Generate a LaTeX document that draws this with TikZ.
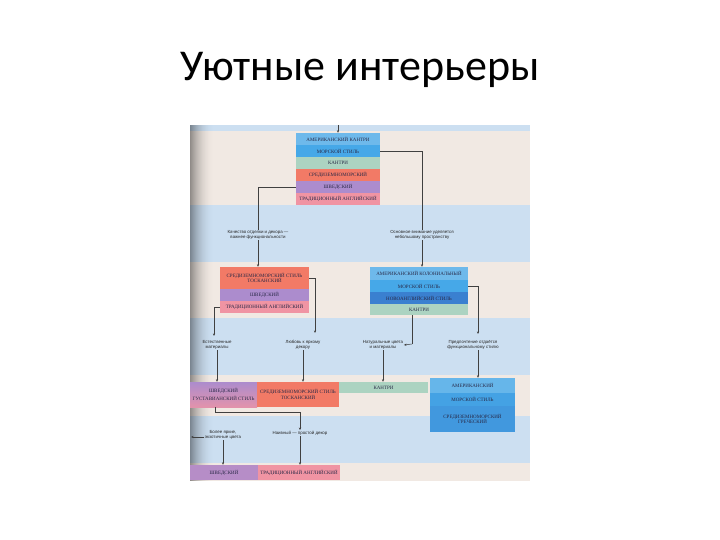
\documentclass[tikz,border=0pt]{standalone}
\usepackage{fontspec}
\setmainfont{Liberation Serif}
\newfontfamily\titlefont{Carlito}
\newfontfamily\notefont{Liberation Sans}
\usetikzlibrary{arrows.meta}
\definecolor{bgbeige}{RGB}{241,233,227}
\definecolor{bgblue}{RGB}{204,223,241}
\definecolor{bxlb}{RGB}{110,185,235}
\definecolor{bxblue}{RGB}{70,168,232}
\definecolor{bxdblue}{RGB}{58,128,208}
\definecolor{bxgreen}{RGB}{172,211,193}
\definecolor{bxsalmon}{RGB}{242,122,102}
\definecolor{bxpurple}{RGB}{172,140,205}
\definecolor{bxpink}{RGB}{240,148,163}
\definecolor{inktext}{RGB}{40,40,70}
\begin{document}
\begin{tikzpicture}[x=1pt,y=-1pt,
  row/.style={inner sep=0pt, align=center, font=\fontsize{5}{5.8}\selectfont, text=inktext},
  note/.style={inner sep=0.6pt, align=center, font=\notefont\fontsize{4.4}{5.2}\selectfont, text=black!85},
  conn/.style={draw=black!75, line width=0.5pt},
  arr/.style={conn, -{Stealth[length=2.6pt,width=2.2pt]}}]
\useasboundingbox (0,0) rectangle (720,540);
\fill[white] (0,0) rectangle (720,540);
% title
\node[font=\titlefont\fontsize{44}{50}\selectfont, text=black] (title) at (360,70) {Уютные интерьеры};
% scanned page background bands
\fill[bgblue] (190,125) rectangle (530,131);
\fill[bgbeige] (190,131) rectangle (530,205);
\fill[bgblue] (190,205) rectangle (530,262);
\fill[bgbeige] (190,262) rectangle (530,318);
\fill[bgblue] (190,318) rectangle (530,375);
\fill[bgbeige] (190,375) rectangle (530,416);
\fill[bgblue] (190,416) rectangle (530,463);
\fill[bgbeige] (190,463) rectangle (530,481);
\foreach \i in {0,...,23} {
  \fill[black, opacity={0.40*(1-\i/24)*(1-\i/24)}] (190+\i,125) rectangle (191+\i,481);
}
% top stack
\node[row, fill=bxlb, minimum width=84pt, minimum height=12pt] (t1) at (338,139) {АМЕРИКАНСКИЙ КАНТРИ};
\node[row, fill=bxblue, minimum width=84pt, minimum height=12pt] (t2) at (338,151) {МОРСКОЙ СТИЛЬ};
\node[row, fill=bxgreen, minimum width=84pt, minimum height=12pt] (t3) at (338,163) {КАНТРИ};
\node[row, fill=bxsalmon, minimum width=84pt, minimum height=12pt] (t4) at (338,175) {СРЕДИЗЕМНОМОРСКИЙ};
\node[row, fill=bxpurple, minimum width=84pt, minimum height=12pt] (t5) at (338,187) {ШВЕДСКИЙ};
\node[row, fill=bxpink, minimum width=84pt, minimum height=12pt] (t6) at (338,199) {ТРАДИЦИОННЫЙ АНГЛИЙСКИЙ};
\coordinate (in) at (338,125);
\draw[arr] (in) -- (t1.north);
% level-2 notes
\node[note] (aL) at (258,235) {Качество отделки и декора —\\важнее функциональности};
\node[note] (aR) at (422,235) {Основное внимание уделяется\\небольшому пространству};
\draw[conn] (t5.west) -| (aL.north);
\draw[conn] (t2.east) -| (aR.north);
% level-2 boxes
\node[row, fill=bxsalmon, minimum width=89pt, minimum height=22pt] (l1) at (264.5,278) {СРЕДИЗЕМНОМОРСКИЙ СТИЛЬ\\ТОСКАНСКИЙ};
\node[row, fill=bxpurple, minimum width=89pt, minimum height=12pt] (l2) at (264.5,295) {ШВЕДСКИЙ};
\node[row, fill=bxpink, minimum width=89pt, minimum height=12pt] (l3) at (264.5,307) {ТРАДИЦИОННЫЙ АНГЛИЙСКИЙ};
\node[row, fill=bxlb, minimum width=98pt, minimum height=13pt] (r1) at (419,273.5) {АМЕРИКАНСКИЙ КОЛОНИАЛЬНЫЙ};
\node[row, fill=bxblue, minimum width=98pt, minimum height=12pt] (r2) at (419,286) {МОРСКОЙ СТИЛЬ};
\node[row, fill=bxdblue, minimum width=98pt, minimum height=12pt] (r3) at (419,298) {НОВОАНГЛИЙСКИЙ СТИЛЬ};
\node[row, fill=bxgreen, minimum width=98pt, minimum height=11pt] (r4) at (419,309.5) {КАНТРИ};
\draw[arr] (aL.south) -- (aL.south |- l1.north);
\draw[arr] (aR.south) -- (aR.south |- r1.north);
% level-3 notes
\node[note] (b1) at (217,345) {Естественные\\материалы};
\node[note] (b2) at (303,345) {Любовь к яркому\\декору};
\node[note] (b3) at (383,345) {Натуральные цвета\\и материалы};
\node[note] (b4) at (473,345) {Предпочтение отдаётся\\функциональному стилю};
\coordinate (b1in) at (214,336);
\coordinate (b2in) at (315,333);
\coordinate (b4in) at (478,334);
\coordinate (b3k) at (412,344);
\draw[arr] (l3.west) -| (b1in);
\draw[arr] (l1.east) -| (b2in);
\draw[arr] (r2.east) -| (b4in);
\draw[conn] (r4.south -| b3k) -- (b3k);
\draw[arr] (b3k) -- (b3.east);
% level-3 boxes
\node[row, top color=bxpurple, bottom color=bxpink!80!bxpurple, minimum width=67pt, minimum height=25pt] (p3) at (223.5,394.5) {ШВЕДСКИЙ\\[2pt]ГУСТАВИАНСКИЙ СТИЛЬ};
\node[row, fill=bxsalmon, minimum width=82pt, minimum height=25pt] (q3) at (298,394.5) {СРЕДИЗЕМНОМОРСКИЙ СТИЛЬ\\ТОСКАНСКИЙ};
\node[row, fill=bxgreen, minimum width=89pt, minimum height=11pt] (g3) at (383.5,387.5) {КАНТРИ};
\node[row, fill=bxlb!80!bxblue, minimum width=85pt, minimum height=15pt] (s1) at (472.5,385.5) {АМЕРИКАНСКИЙ};
\node[row, fill=bxblue!85!bxdblue, minimum width=85pt, minimum height=13pt] (s2) at (472.5,399.5) {МОРСКОЙ СТИЛЬ};
\node[row, fill=bxblue!60!bxdblue, minimum width=85pt, minimum height=26pt] (s3) at (472.5,419) {СРЕДИЗЕМНОМОРСКИЙ\\ГРЕЧЕСКИЙ};
\draw[arr] (b1.south) -- (b1.south |- p3.north);
\draw[arr] (b2.south) -- (b2.south |- q3.north);
\draw[arr] (b3.south) -- (b3.south |- g3.north);
\draw[arr] (b4.south -| b4in) -- (b4in |- s1.north);
% level-4 notes
\node[note] (c1) at (223,435) {Более яркие,\\экзотичные цвета};
\node[note] (c2) at (300,433) {Наивный — простой декор};
\coordinate (j1) at (215,412);
\coordinate (cl) at (191,437);
\draw[arr] (p3.south -| j1) -- (j1) -| (c2.north);
\draw[arr] (c1.west |- cl) -- (cl);
% level-4 boxes
\node[row, fill=bxpurple!85!bxpink, minimum width=68pt, minimum height=15pt] (p4) at (224,472.5) {ШВЕДСКИЙ};
\node[row, fill=bxpink, minimum width=82pt, minimum height=15pt] (k4) at (299,472.5) {ТРАДИЦИОННЫЙ АНГЛИЙСКИЙ};
\draw[arr] (c1.south) -- (c1.south |- p4.north);
\draw[arr] (c2.south) -- (c2.south |- k4.north);
\end{tikzpicture}
\end{document}
